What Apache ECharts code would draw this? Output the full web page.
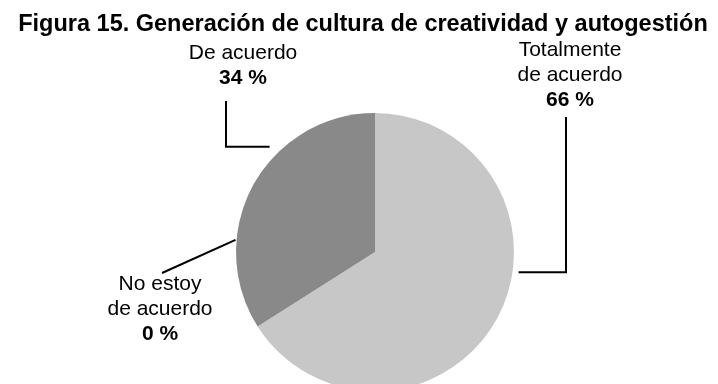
<!DOCTYPE html>
<html>
<head>
<meta charset="utf-8">
<script src="https://cdn.jsdelivr.net/npm/echarts@6/dist/echarts.min.js"></script>
<style>
  html, body { margin: 0; padding: 0; background: #ffffff; }
  #chart { width: 718px; height: 384px; }
</style>
</head>
<body>
<div id="chart"></div>
<script>
// Chart data
const chartTitle = 'Figura 15. Generación de cultura de creatividad y autogestión';
const categories = ['Totalmente de acuerdo', 'De acuerdo', 'No estoy de acuerdo'];
const labelLines = [['Totalmente', 'de acuerdo'], ['De acuerdo'], ['No estoy', 'de acuerdo']];
const values = [66, 34, 0];
const sliceColors = ['#c7c7c7', '#898989', '#5e5e5e'];

// Pie geometry (pixels)
const cx = 375, cy = 252, R = 139;

// Label blocks and their leader lines.
// rim: [angle clockwise from 12 o'clock in degrees, gap outside the rim]
// bend: 'h' = run horizontally to elbowX, then vertically to endY; 'line' = straight to end
const placement = [
  { x: 570, y: 75,  rim: [98, 6],   bend: 'h', elbowX: 566, endY: 117 },
  { x: 243, y: 66,  rim: [315, 10], bend: 'h', elbowX: 226, endY: 101 },
  { x: 160, y: 309, rim: [275, 1],  bend: 'line', end: [162, 273] }
];

function rimPoint(deg, gap) {
  const a = deg * Math.PI / 180;
  return [cx + (R + gap) * Math.sin(a), cy - (R + gap) * Math.cos(a)];
}

function leaderPoints(p) {
  const a = rimPoint(p.rim[0], p.rim[1]);
  if (p.bend === 'h') {
    return [a, [p.elbowX, a[1]], [p.elbowX, p.endY]];
  }
  return [a, p.end];
}

const seriesData = categories.map((name, i) => ({
  name: name,
  value: values[i],
  itemStyle: { color: sliceColors[i] }
}));

const chart = echarts.init(document.getElementById('chart'), null, { renderer: 'canvas' });

chart.setOption({
  backgroundColor: '#ffffff',
  animation: false,
  title: {
    text: chartTitle,
    left: 358,
    top: 8,
    textAlign: 'center',
    textStyle: {
      fontFamily: 'Liberation Sans, Arial, sans-serif',
      fontSize: 23.5,
      fontWeight: 'bold',
      color: '#000000'
    }
  },
  series: [{
    type: 'pie',
    center: [cx, cy],
    radius: R,
    startAngle: 90,
    clockwise: true,
    avoidLabelOverlap: false,
    minShowLabelAngle: 0,
    silent: true,
    data: seriesData,
    itemStyle: { borderWidth: 0 },
    emphasis: { disabled: true },
    label: {
      show: true,
      position: 'outside',
      formatter: function (p) {
        const lines = labelLines[p.dataIndex].map(t => '{n|' + t + '}');
        lines.push('{v|' + values[p.dataIndex] + ' %}');
        return lines.join('\n');
      },
      rich: {
        n: {
          fontFamily: 'Liberation Sans, Arial, sans-serif',
          fontSize: 21,
          color: '#000000',
          lineHeight: 25,
          align: 'center'
        },
        v: {
          fontFamily: 'Liberation Sans, Arial, sans-serif',
          fontSize: 21,
          fontWeight: 'bold',
          color: '#000000',
          lineHeight: 25,
          align: 'center'
        }
      }
    },
    labelLine: {
      show: true,
      length: 10,
      length2: 10,
      smooth: false,
      lineStyle: { color: '#000000', width: 2 }
    },
    labelLayout: function (params) {
      const p = placement[params.dataIndex];
      return {
        x: p.x,
        y: p.y,
        align: 'center',
        verticalAlign: 'middle',
        labelLinePoints: leaderPoints(p)
      };
    }
  }]
});
</script>
</body>
</html>
